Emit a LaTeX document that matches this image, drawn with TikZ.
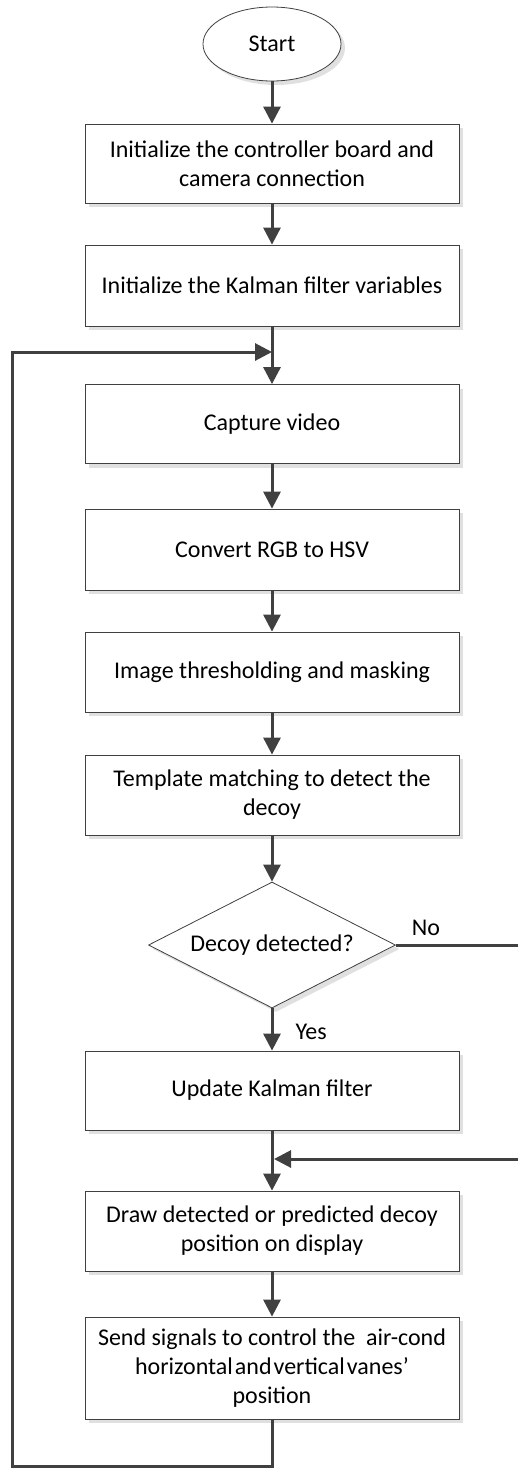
\documentclass[tikz,border=0pt]{standalone}
\usepackage{fontspec}
\setmainfont{Carlito}
\usetikzlibrary{arrows.meta,shapes.geometric,shadows}

\tikzset{
  boxshadow/.style={drop shadow={shadow xshift=4pt,shadow yshift=-4pt,fill=black!12,opacity=1}},
  procbox/.style={draw=black!75,line width=0.8pt,fill=white,boxshadow,
    minimum width=374pt,minimum height=79pt,align=center,inner sep=0pt},
  startnode/.style={ellipse,draw=black!75,line width=0.8pt,fill=white,boxshadow,
    minimum width=138pt,minimum height=74pt,inner sep=0pt},
  decision/.style={diamond,aspect=1.96,draw=black!75,line width=0.8pt,fill=white,boxshadow,
    minimum width=247pt,minimum height=126pt,inner sep=0pt},
  flow/.style={line width=3pt,draw=black!75,-{Triangle[length=17pt,width=17pt]}},
  answer/.style={inner sep=0pt},
}

\begin{document}
\begin{tikzpicture}[x=1pt,y=-1pt,every node/.style={font=\fontsize{24}{29}\selectfont}]
  \useasboundingbox (0,0) rectangle (518,1468);
  % blocks
  \node[startnode] (start) at (272,44) {Start};
  \node[procbox] (init) at (272,163.5) {Initialize the controller board and\\camera connection};
  \node[procbox,minimum height=81pt] (kalman) at (272,285.5) {Initialize the Kalman filter variables};
  \node[procbox] (capture) at (272,424) {Capture video};
  \node[procbox,minimum height=81pt] (convert) at (272,549.5) {Convert RGB to HSV};
  \node[procbox,minimum height=80pt] (thresh) at (272,672) {Image thresholding and masking};
  \node[procbox,minimum height=80pt] (match) at (272,795) {Template matching to detect the\\decoy};
  \node[decision] (detect) at (272,945) {Decoy detected?};
  \node[procbox] (update) at (272,1090.5) {Update Kalman filter};
  \node[procbox,minimum height=80pt] (display) at (272,1231) {Draw detected or predicted decoy\\position on display};
  \node[procbox,minimum height=102pt] (send) at (272,1368) {Send signals to control the\ \ air-cond\\horizontal\hspace{2pt}and\hspace{2pt}vertical\hspace{2pt}vanes’\\position};
  % helper points
  \coordinate (loopin) at (272,352);
  \coordinate (rejoin) at (274,1159);
  \coordinate (noright) at (521,945);
  \coordinate (leftdown) at (12.5,1466.5);
  % connectors
  \draw[flow] (start) -- (init);
  \draw[flow] (init) -- (kalman);
  \draw[flow] (kalman) -- (capture);
  \draw[flow] (capture) -- (convert);
  \draw[flow] (convert) -- (thresh);
  \draw[flow] (thresh) -- (match);
  \draw[flow] (match) -- (detect);
  \draw[flow] (detect) -- node[answer,midway,right=22pt,yshift=-2pt]{Yes} (update);
  \draw[flow] (update) -- (display);
  \draw[flow] (display) -- (send);
  \draw[flow] (detect.east) -- node[answer,pos=0.24,above=8pt]{No} (noright) |- (rejoin);
  \draw[flow] (send) |- (leftdown) |- (loopin);
\end{tikzpicture}
\end{document}
